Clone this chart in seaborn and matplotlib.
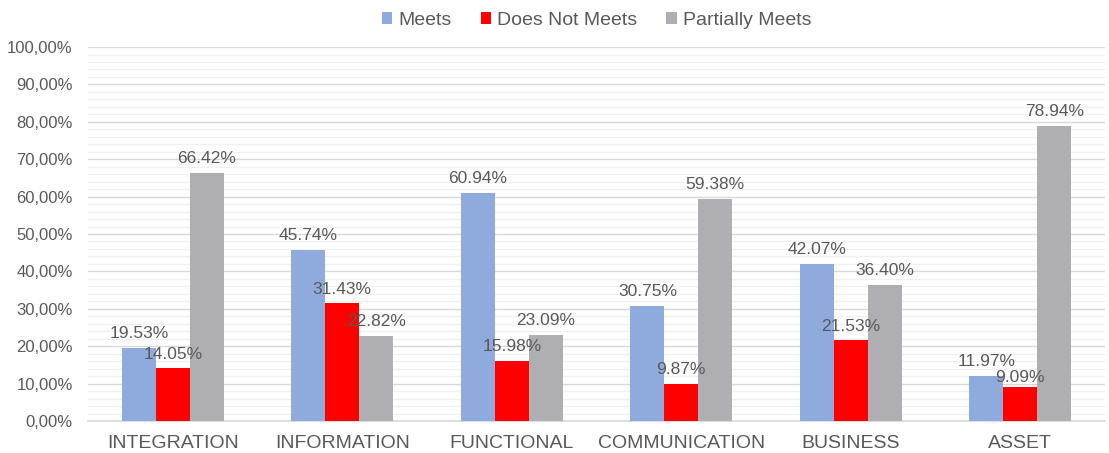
import pandas as pd
import seaborn as sns
import matplotlib
matplotlib.use("Agg")
import matplotlib.pyplot as plt
from matplotlib.ticker import MultipleLocator, FuncFormatter

categories = ["INTEGRATION", "INFORMATION", "FUNCTIONAL", "COMMUNICATION", "BUSINESS", "ASSET"]
series = ["Meets", "Does Not Meets", "Partially Meets"]
meets = [19.53, 45.74, 60.94, 30.75, 42.07, 11.97]
does_not_meets = [14.05, 31.43, 15.98, 9.87, 21.53, 9.09]
partially_meets = [66.42, 22.82, 23.09, 59.38, 36.40, 78.94]
colors = ["#8FAADC", "#FF0000", "#AFAFB3"]

rows = []
for name, vals in zip(series, [meets, does_not_meets, partially_meets]):
    for cat, v in zip(categories, vals):
        rows.append({"category": cat, "series": name, "value": v})
df = pd.DataFrame(rows)

sns.set_theme(style="white")
plt.rcParams["font.family"] = ["Liberation Sans", "DejaVu Sans"]
text_color = "#595959"

fig = plt.figure(figsize=(11.09, 4.53), dpi=100)
ax = fig.add_axes([0.0794, 0.0706, 0.917, 0.8256])

sns.barplot(data=df, x="category", y="value", hue="series", order=categories,
            hue_order=series, palette=colors, width=0.6, gap=0, saturation=1,
            edgecolor="none", ax=ax, legend=True, zorder=3)

ax.set_ylim(0, 100)
ax.set_xlim(-0.5, len(categories) - 0.5)
ax.yaxis.set_major_locator(MultipleLocator(10))
ax.yaxis.set_minor_locator(MultipleLocator(2))
ax.yaxis.set_major_formatter(FuncFormatter(lambda v, p: f"{v:.2f}%".replace(".", ",")))
ax.grid(axis="y", which="major", color="#D9D9D9", linewidth=1, zorder=0)
ax.grid(axis="y", which="minor", color="#F0F0F0", linewidth=1, zorder=0)
ax.set_axisbelow(True)
for s in ["top", "right", "left"]:
    ax.spines[s].set_visible(False)
ax.spines["bottom"].set_color("#D9D9D9")
ax.tick_params(axis="y", which="both", length=0, labelsize=12, labelcolor=text_color, pad=11)
ax.tick_params(axis="x", length=0, labelsize=14, labelcolor=text_color, pad=10)
ax.set_xlabel("")
ax.set_ylabel("")

pad = 5
labels = []
for cont in ax.containers:
    labels.append(ax.bar_label(cont, labels=[f"{b.get_height():.2f}%" for b in cont],
                               padding=pad, fontsize=12.5, color=text_color))

# push a label down when it collides with a neighbour's label (like Excel does)
fig.canvas.draw()
r = fig.canvas.get_renderer()
for i in range(len(categories)):
    for j in range(1, len(series)):
        cur = labels[j][i]
        for k in range(j):
            prev = labels[k][i].get_window_extent(r)
            box = cur.get_window_extent(r)
            if box.overlaps(prev):
                shift = (box.y1 - prev.y0 + 1) * 72 / fig.dpi
                x0, y0 = cur.xyann
                cur.xyann = (x0, y0 - shift)
                fig.canvas.draw()

ax.legend(loc="upper center", bbox_to_anchor=(0.5, 1.14), ncol=3, frameon=False,
          fontsize=14, labelcolor=text_color, handlelength=0.55, handleheight=0.55,
          handletextpad=0.3, columnspacing=1.5)

fig.savefig("out.png", dpi=100)
